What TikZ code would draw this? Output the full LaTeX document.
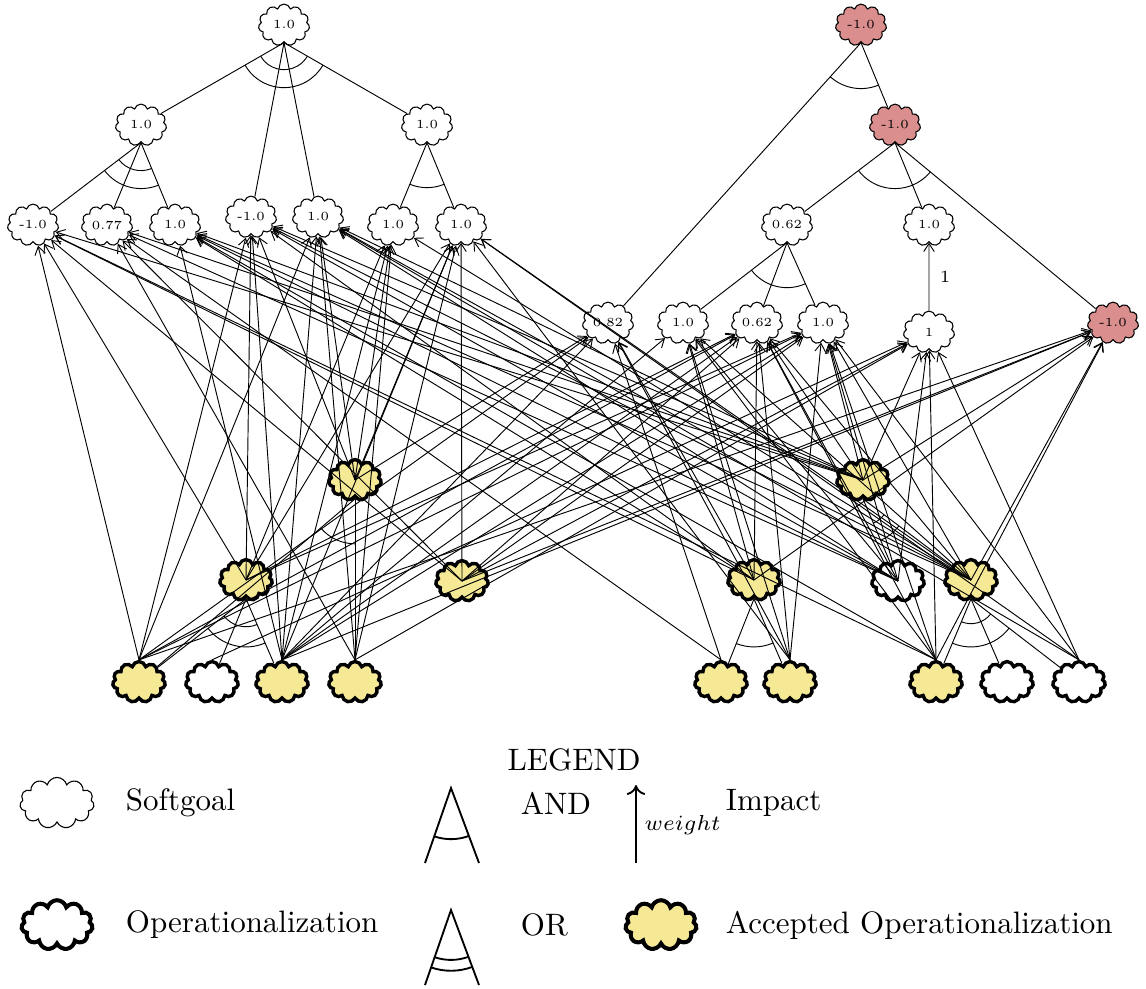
\documentclass[tikz,border=0pt]{standalone}
\usetikzlibrary{shapes.symbols,arrows.meta,calc}
\definecolor{opyellow}{RGB}{245,233,150}
\definecolor{sgred}{RGB}{218,142,142}

\tikzset{
  soft/.style={cloud, cloud puffs=11, cloud ignores aspect, draw, line width=0.35pt,
    minimum width=16.5pt, minimum height=13.5pt, inner sep=0pt,
    font=\fontsize{4}{4}\selectfont},
  neg/.style={soft, fill=sgred},
  oper/.style={cloud, cloud puffs=11, cloud ignores aspect, draw, line width=1.1pt,
    minimum width=17pt, minimum height=13.2pt, inner sep=0pt},
  acc/.style={oper, fill=opyellow},
  imp/.style={-{Straight Barb[length=2.6pt,width=3.4pt]}, line width=0.3pt},
  dec/.style={line width=0.3pt},
  legline/.style={line width=0.6pt},
}

% arc across the links of a decomposition: apex, first child, last child, radius
\newcommand\decarc[5][]{%
  \draw[dec,#1] let \p1=($(#3)-#2$), \p2=($(#4)-#2$),
    \n1={atan2(\y1,\x1)}, \n2={atan2(\y2,\x2)} in
    ($#2+(\n1:#5)$) arc[start angle=\n1, end angle=\n2, radius=#5];}

\begin{document}
\begin{tikzpicture}[x=0.3226pt, y=-0.3226pt]
\useasboundingbox (0,0) rectangle (1146,988);

% ---------- softgoals, left tree ----------
\node[soft] (Stop) at (284,25) {1.0};
\node[soft] (SL) at (141,125) {1.0};
\node[soft] (SR) at (427,125) {1.0};
\node[soft] (A) at (33,225) {-1.0};
\node[soft] (B) at (107,225) {0.77};
\node[soft] (C) at (175,225) {1.0};
\node[soft] (D) at (251,217) {-1.0};
\node[soft] (E) at (318,217) {1.0};
\node[soft] (F) at (393,225) {1.0};
\node[soft] (G) at (461,225) {1.0};

% ---------- softgoals, right tree ----------
\node[neg] (Rtop) at (861,25) {-1.0};
\node[neg] (R2) at (895,125) {-1.0};
\node[soft] (Ra) at (787,225) {0.62};
\node[soft] (Rb) at (929,225) {1.0};
\node[soft] (H) at (608,323) {0.82};
\node[soft] (I) at (683,323) {1.0};
\node[soft] (J) at (757,323) {0.62};
\node[soft] (K) at (823,323) {1.0};
\node[soft] (L) at (929,332) {1};
\node[neg] (M) at (1113,323) {-1.0};

% ---------- operationalizations ----------
\node[acc] (O1) at (355,480) {};
\node[acc] (O2) at (863,480) {};
\node[acc] (O3) at (246,580) {};
\node[acc] (O4) at (462,581) {};
\node[acc] (O5) at (754,580) {};
\node[oper] (O6) at (898,581) {};
\node[acc] (O7) at (971,580) {};
\node[acc] (P1) at (139,682) {};
\node[oper] (P2) at (212,682) {};
\node[acc] (P3) at (282,682) {};
\node[acc] (P4) at (355,682) {};
\node[acc] (P5) at (721,682) {};
\node[acc] (P6) at (790,682) {};
\node[acc] (P7) at (936,682) {};
\node[oper] (P8) at (1007,682) {};
\node[oper] (P9) at (1079,682) {};

% ---------- decompositions ----------
\foreach \p/\c in {Stop/SL, Stop/D, Stop/E, Stop/SR, SL/A, SL/B, SL/C, SR/F, SR/G,
                   Rtop/H, Rtop/R2, R2/Ra, R2/Rb, R2/M, Ra/I, Ra/J, Ra/K,
                   O1/P1, O1/P4, O3/P1, O3/P2, O3/P3, O2/O6, O2/O7,
                   O5/P5, O5/P6, O7/P7, O7/P8, O7/P9}
  \draw[dec] (\p.south) -- (\c);

\decarc{(Stop.south)}{SL}{SR}{8.7pt}
\decarc{(Stop.south)}{SL}{SR}{14.5pt}
\decarc{(SL.south)}{A}{C}{9pt}
\decarc{(SL.south)}{A}{C}{14.8pt}
\decarc{(SR.south)}{F}{G}{14.5pt}
\decarc{(Rtop.south)}{H}{R2}{14.8pt}
\decarc{(R2.south)}{Ra}{M}{14.8pt}
\decarc{(Ra.south)}{I}{K}{14.5pt}
\decarc{(O1.south)}{P1}{P4}{14.5pt}
\decarc{(O3.south)}{P1}{P3}{9pt}
\decarc{(O3.south)}{P1}{P3}{15.5pt}
\decarc{(O2.south)}{O6}{O7}{8.5pt}
\decarc{(O2.south)}{O6}{O7}{14.5pt}
\decarc{(O5.south)}{P5}{P6}{15.5pt}
\decarc{(O7.south)}{P7}{P9}{8pt}
\decarc{(O7.south)}{P7}{P9}{15.5pt}

% ---------- impacts ----------
\draw[imp] (L) -- node[right, font=\fontsize{5.5}{5.5}\selectfont] {1} (Rb);

\foreach \s/\t in {
  P1.north/A, P1.north/D, P1.north/E, P1.north/H, P1.north/J, P1.north/K, P1.north/M,
  P2.north/L,
  P3.north/C, P3.north/D, P3.north/E, P3.north/F, P3.north/G, P3.north/H, P3.north/I,
  P3.north/J, P3.north/K, P3.north/M,
  P4.north/B, P4.north/E, P4.north/F, P4.north/G, P4.north/L,
  O3.center/A, O3.center/D, O3.center/F, O3.center/G, O3.center/J, O3.center/K,
  O1.center/D, O1.center/E, O1.center/F, O1.center/G, O1.center/H,
  O4.center/A, O4.center/B, O4.center/G, O4.center/J, O4.center/K, O4.center/L, O4.center/M,
  O2.center/A, O2.center/B, O2.center/C, O2.center/D, O2.center/E, O2.center/J,
  O2.center/K, O2.center/L, O2.center/M,
  O5.center/A, O5.center/C, O5.center/D, O5.center/H, O5.center/I, O5.center/J, O5.center/M,
  O6.center/B, O6.center/C, O6.center/D, O6.center/E, O6.center/I, O6.center/J,
  O6.center/K, O6.center/L,
  O7.center/C, O7.center/D, O7.center/E, O7.center/F, O7.center/G, O7.center/I,
  O7.center/J, O7.center/K, O7.center/M,
  P5.north/B, P5.north/H,
  P6.north/G, P6.north/H, P6.north/I, P6.north/J, P6.north/K,
  P7.north/A, P7.north/C, P7.north/I, P7.north/J, P7.north/K, P7.north/L, P7.north/M,
  P9.north/E, P9.north/G, P9.north/K, P9.north/L}
  \draw[imp] (\s) -- (\t);

% ---------- legend ----------
\node (legend) at (574,760) {LEGEND};

\node[soft, minimum width=24pt, minimum height=16.5pt] (lsoft) at (57,803) {};
\node[anchor=west] (tsoft) at (115,803) {Softgoal};

\coordinate (andtop) at (451,788);
\coordinate (andl) at (425,863);
\coordinate (andr) at (479,863);
\draw[legline] (andl) -- (andtop) -- (andr);
\decarc[legline]{(andtop)}{andl}{andr}{16.5pt}
\node[anchor=west] (tand) at (510,803) {AND};

\coordinate (impb) at (636,863);
\coordinate (impt) at (636,785);
\draw[legline, -{To[length=3.2pt,width=6pt]}] (impb) -- node[right, pos=0.49, inner sep=2.5pt, font=\fontsize{6.6}{7}\selectfont] {$weight$} (impt);
\node[anchor=west] (timp) at (715,803) {Impact};

\node[oper, line width=1.3pt, minimum width=23pt, minimum height=16pt] (lop) at (57,925) {};
\node[anchor=west] (top) at (115,925) {Operationalization};

\coordinate (ortop) at (451,910);
\coordinate (orl) at (425,985);
\coordinate (orr) at (479,985);
\draw[legline] (orl) -- (ortop) -- (orr);
\decarc[legline]{(ortop)}{orl}{orr}{16.1pt}
\decarc[legline]{(ortop)}{orl}{orr}{19.6pt}
\node[anchor=west] (tor) at (510,925) {OR};

\node[acc, line width=1.3pt, minimum width=23pt, minimum height=16pt] (lacc) at (661,925) {};
\node[anchor=west] (tacc) at (715,925) {Accepted Operationalization};

\end{tikzpicture}
\end{document}
